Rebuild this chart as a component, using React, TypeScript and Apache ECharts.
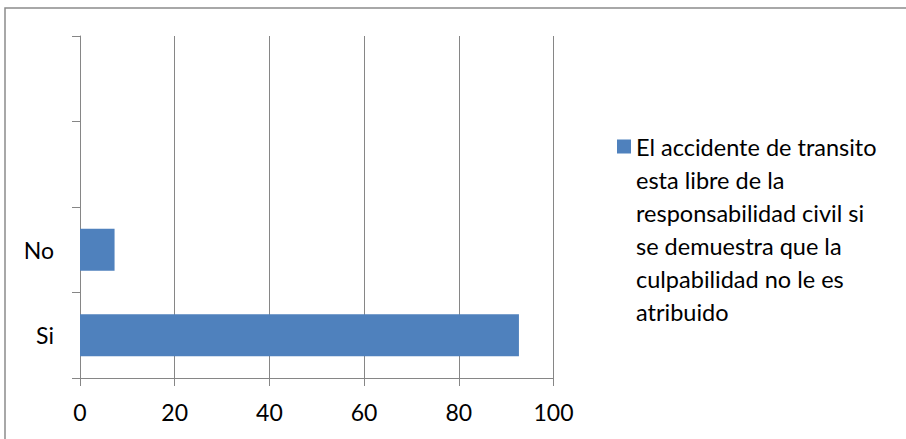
import React, { useEffect, useRef } from "react";
import * as echarts from "echarts";

// Bottom-to-top category order; the two upper slots are intentionally empty
const categories: string[] = ["Si", "No", "", ""];
const percentValues: number[] = [92.7, 7.3];
const xTicks = { min: 0, max: 100, interval: 20 };

const seriesName =
  "El accidente de transito esta libre de la responsabilidad civil si se demuestra que la culpabilidad no le es atribuido";
const legendLines: string[] = [
  "El accidente de transito",
  "esta libre de la",
  "responsabilidad civil si",
  "se demuestra que la",
  "culpabilidad no le es",
  "atribuido",
];

const FONT = "Lato, 'Open Sans', sans-serif";
const GRID_GRAY = "#868686";
const BAR_BLUE = "#4F81BD";

export default function App() {
  const ref = useRef<HTMLDivElement>(null);

  useEffect(() => {
    if (!ref.current) return;
    const chart = echarts.init(ref.current, undefined, { renderer: "svg" });

    const lineH = 33;
    const square = 14;
    const squareTop = 139.5;
    // Tall icon box keeps the square aligned with the first wrapped line
    const iconBox = square + (legendLines.length - 1) * lineH;
    const textBlock = legendLines.length * lineH;
    const legendTop = squareTop + iconBox / 2 - textBlock / 2;

    chart.setOption({
      animation: false,
      backgroundColor: "#ffffff",
      grid: { left: 80, right: 352.5, top: 36, bottom: 61, containLabel: false },
      xAxis: {
        type: "value",
        min: xTicks.min,
        max: xTicks.max,
        interval: xTicks.interval,
        axisLine: { show: true, lineStyle: { color: GRID_GRAY, width: 1 } },
        axisTick: { show: true, length: 8, lineStyle: { color: GRID_GRAY } },
        splitLine: { show: true, lineStyle: { color: GRID_GRAY, width: 1 } },
        axisLabel: { color: "#000", fontFamily: FONT, fontSize: 23, margin: 22 },
      },
      yAxis: {
        type: "category",
        data: categories,
        boundaryGap: true,
        axisLine: { show: true, lineStyle: { color: GRID_GRAY, width: 1 } },
        axisTick: { show: true, length: 8, alignWithLabel: false, lineStyle: { color: GRID_GRAY } },
        splitLine: { show: false },
        axisLabel: { color: "#000", fontFamily: FONT, fontSize: 23, margin: 26 },
      },
      legend: {
        orient: "vertical",
        left: 617,
        top: legendTop,
        padding: 0,
        itemWidth: square,
        itemHeight: iconBox,
        icon: `path://M0 0H${square}V${square}H0Z M0 ${iconBox}L0 ${iconBox}`,
        formatter: () => legendLines.join("\n"),
        textStyle: { color: "#000", fontFamily: FONT, fontSize: 23.5, lineHeight: lineH },
        data: [seriesName],
      },
      series: [
        {
          name: seriesName,
          type: "bar",
          data: percentValues,
          barWidth: 42,
          itemStyle: { color: BAR_BLUE },
        },
      ],
      graphic: [
        {
          type: "rect",
          silent: true,
          shape: { x: 5, y: 8, width: 1000, height: 1000 },
          style: { fill: "none", stroke: "#8c8c8c", lineWidth: 1.5 },
        },
      ],
    });

    return () => chart.dispose();
  }, []);

  return (
    <div
      ref={ref}
      style={{ position: "absolute", left: 0, top: 0, width: 906, height: 439 }}
    />
  );
}
